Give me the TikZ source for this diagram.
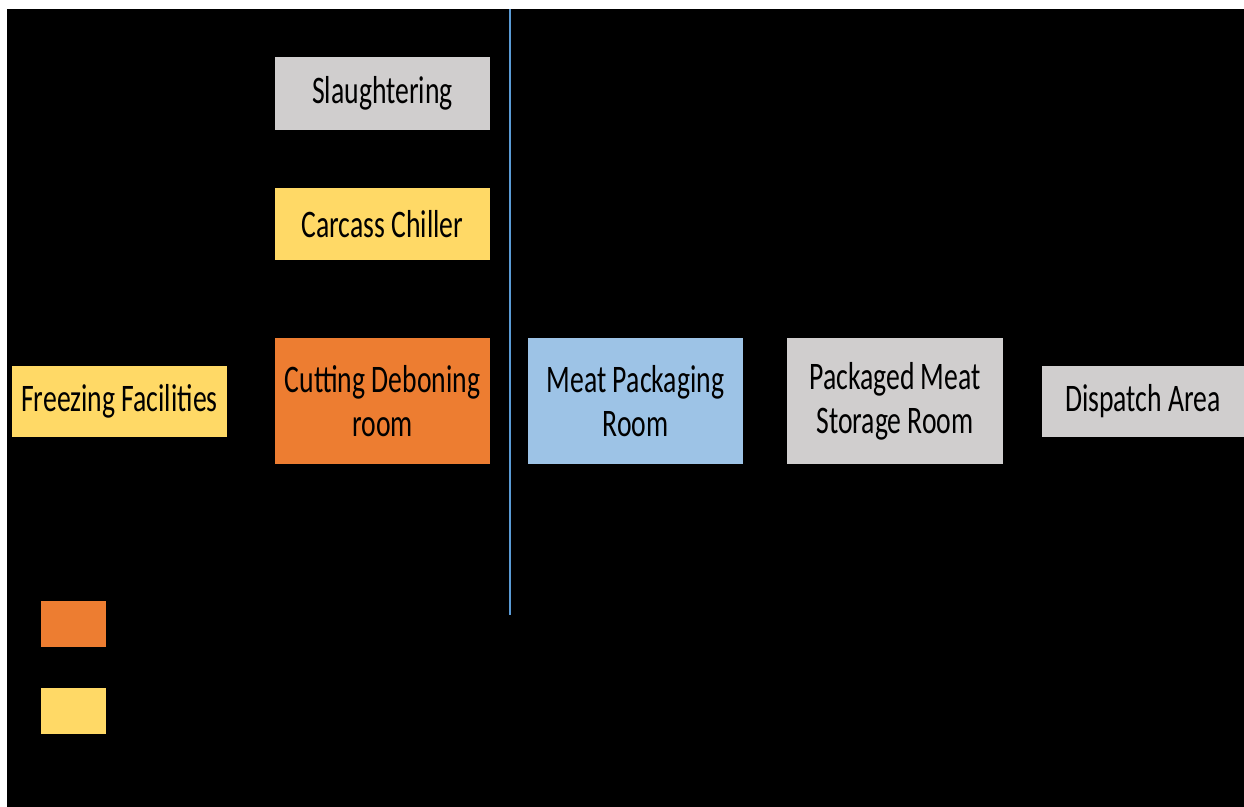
\documentclass[tikz,border=0pt]{standalone}
\usepackage{fontspec}
\setmainfont{Carlito}[FakeStretch=0.71]
\definecolor{boxgray}{HTML}{D0CECE}
\definecolor{boxyellow}{HTML}{FFD966}
\definecolor{boxorange}{HTML}{ED7D31}
\definecolor{boxblue}{HTML}{9DC3E6}
\definecolor{lineblue}{HTML}{5B9BD5}
\begin{document}
\begin{tikzpicture}[x=0.5pt,y=-0.5pt,
  room/.style={draw=none,inner sep=0pt,align=center,text=black,font=\fontsize{19.5}{22}\selectfont},
  legendbox/.style={draw=none,inner sep=0pt}]
\useasboundingbox (0,0) rectangle (1244,807);
\fill[white] (0,0) rectangle (1244,807);
\fill[black] (7,9) rectangle (1244,807);
% blue divider line
\coordinate (ltop) at (510,9);
\coordinate (lbot) at (510,615);
\draw[lineblue,line width=1.2pt] (ltop) -- (lbot);
% boxes
\fill[boxgray] (275,57) rectangle (490,130) node[room,pos=0.5] (slaughter) {Slaughtering};
\fill[boxyellow] (275,188) rectangle (490,260) node[room,pos=0.5] (chiller) {Carcass Chiller};
\fill[boxorange] (275,338) rectangle (490,464) node[room,pos=0.5] (cutting) {Cutting Deboning\\room};
\fill[boxyellow] (12,366) rectangle (227,437) node[room,pos=0.5] (freezing) {Freezing Facilities};
\fill[boxblue] (528,338) rectangle (743,464) node[room,pos=0.5] (packaging) {Meat Packaging\\Room};
\fill[boxgray] (787,338) rectangle (1003,464) node[room,pos=0.5] (storage) {Packaged Meat\\Storage Room};
\fill[boxgray] (1042,366) rectangle (1244,437) node[room,pos=0.5] (dispatch) {Dispatch Area};
% legend
\fill[boxorange] (41,601) rectangle (106,647) node[legendbox,pos=0.5] (legorange) {};
\fill[boxyellow] (41,688) rectangle (106,734) node[legendbox,pos=0.5] (legyellow) {};
\end{tikzpicture}
\end{document}
